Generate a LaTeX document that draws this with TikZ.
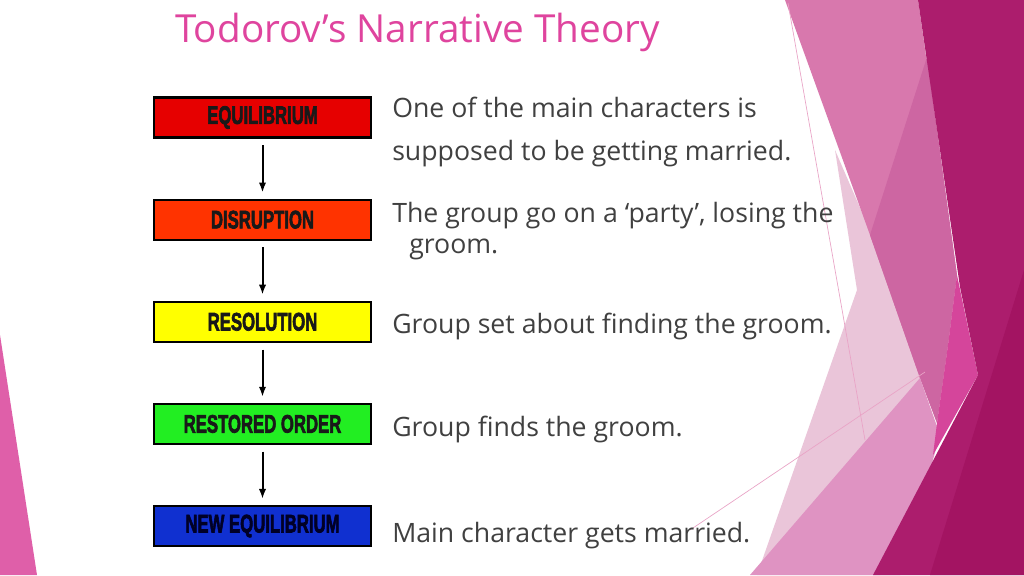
\documentclass[tikz,border=0pt]{standalone}
\usepackage{fontspec}
\setmainfont{Open Sans}
\newfontfamily\labelfont[BoldFeatures={FakeBold=3}]{Liberation Sans}
\usetikzlibrary{arrows.meta,positioning}
\definecolor{titlepink}{HTML}{DF449E}
\definecolor{bodygray}{HTML}{404040}
\definecolor{eqred}{HTML}{E60000}
\definecolor{disorange}{HTML}{FF3300}
\definecolor{resyellow}{HTML}{FFFF00}
\definecolor{resgreen}{HTML}{22EE22}
\definecolor{newblue}{HTML}{1030D0}
\definecolor{facetpale}{HTML}{EAC5D9}
\definecolor{facetmid}{HTML}{D878AD}
\definecolor{facetmidd}{HTML}{CD66A2}
\definecolor{facetlow}{HTML}{DF93C2}
\definecolor{facetbright}{HTML}{D5459B}
\definecolor{facetdark}{HTML}{AC1D6D}
\definecolor{facetdarker}{HTML}{A31462}
\definecolor{facetline}{HTML}{E9A3C6}
\definecolor{facetleft}{HTML}{DF5FA9}
\newcommand{\boxlabel}[1]{\scalebox{0.66}[1]{#1}}
\tikzstyle{block} = [
  rectangle, draw=black, line width=1.6pt, minimum width=163pt,
  minimum height=30pt, inner sep=0pt, text=black!90,
  font=\labelfont\bfseries\fontsize{19}{20}\selectfont
]
\tikzstyle{step arrow} = [
  -{Latex[length=7.5pt,width=5.5pt]}, line width=1.5pt,
  shorten <=5pt, shorten >=4.5pt
]
\tikzstyle{story} = [
  anchor=base west, inner sep=0pt, text=bodygray,
  font=\fontsize{20}{24}\selectfont
]

\begin{document}
\begin{tikzpicture}[x=0.75pt, y=-0.75pt]
    \useasboundingbox (0,0) rectangle (1024,575);
    \fill[white] (0,0) rectangle (1024,575);

    % slide decoration
    \fill[facetleft] (0,335) -- (37,575) -- (0,575) -- cycle;
    \fill[facetpale] (835,150) -- (900,300) -- (920,378) -- (880,575)
      -- (757,575) -- (857,290) -- cycle;
    \fill[facetmid] (785,0) -- (918,0) -- (957,275) -- (948,345)
      -- (937,423) -- (920,378) -- (870,235) -- cycle;
    \fill[facetmidd] (927,57) -- (957,275) -- (948,345) -- (937,423)
      -- (920,378) -- (870,235) -- cycle;
    \fill[facetlow] (750,575) -- (920,378) -- (940,435) -- (900,575) -- cycle;
    \fill[facetbright] (957,275) -- (978,375) -- (933,455) -- (937,423)
      -- (948,345) -- cycle;
    \fill[facetdark] (918,0) -- (1024,0) -- (1024,575) -- (873,575)
      -- (978,375) -- (960,287) -- cycle;
    \fill[facetdarker] (1024,270) -- (1024,575) -- (930,575) -- cycle;
    \draw[facetline, line width=0.5pt] (788,3) -- (865,440);
    \draw[facetline, line width=0.5pt] (690,530) -- (925,372);

    \node[anchor=base west, inner sep=0pt, text=titlepink,
      font=\fontsize{29}{34}\selectfont] (title) at (175,42)
      {Todorov’s Narrative Theory};

    \node[block, fill=eqred] (equi) at (262.5,117.5) {\boxlabel{EQUILIBRIUM}};
    \node[block, fill=disorange, below=45pt of equi] (disr) {\boxlabel{DISRUPTION}};
    \node[block, fill=resyellow, below=45pt of disr] (reso) {\boxlabel{RESOLUTION}};
    \node[block, fill=resgreen, below=45pt of reso] (rest) {\boxlabel{RESTORED ORDER}};
    \node[block, fill=newblue, text=black!85!blue, below=45pt of rest] (neweq)
      {\boxlabel{NEW EQUILIBRIUM}};

    \draw[step arrow] (equi.south) -- (disr.north);
    \draw[step arrow] (disr.south) -- (reso.north);
    \draw[step arrow] (reso.south) -- (rest.north);
    \draw[step arrow] (rest.south) -- (neweq.north);

    \node[story] (equia) at (392,117) {One of the main characters is};
    \node[story] (equib) at (392,160) {supposed to be getting married.};
    \node[story] (disra) at (392,222) {The group go on a ‘party’, losing the};
    \node[story] (disrb) at (409,253) {groom.};
    \node[story] (resot) at (392,333) {Group set about finding the groom.};
    \node[story] (restt) at (392,436) {Group finds the groom.};
    \node[story] (newt) at (392,542) {Main character gets married.};
\end{tikzpicture}
\end{document}
